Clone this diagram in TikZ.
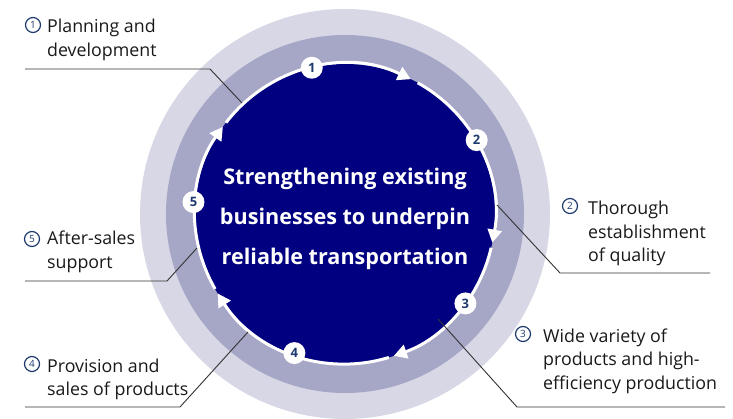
\documentclass[tikz,border=0pt]{standalone}
\usepackage{fontspec}
\setmainfont{Open Sans}
\usetikzlibrary{arrows.meta,calc}
\definecolor{navy}{HTML}{000080}
\definecolor{ringmid}{HTML}{A6A6C6}
\definecolor{ringlight}{HTML}{D7D7E6}
\definecolor{numblue}{HTML}{1E3A6E}
\definecolor{leader}{HTML}{333333}
\begin{document}
\begin{tikzpicture}[x=1pt,y=-1pt,
  badge/.style={circle,fill=white,minimum size=22pt,inner sep=0pt,font=\fontsize{13}{13}\selectfont\bfseries,text=numblue},
  cnum/.style={circle,draw=numblue,line width=1.2pt,minimum size=15pt,inner sep=0pt,font=\fontsize{10}{10}\selectfont,text=numblue},
  lbl/.style={anchor=base west,inner sep=0pt,text=black!90,font=\fontsize{17.8}{23.5}\selectfont},
  leaderline/.style={draw=leader,line width=0.9pt},
  cyclearc/.style={white,line width=3pt},
  cyclearrow/.style={cyclearc,-{Triangle[length=13pt,width=14pt]}}
]
\useasboundingbox (0,0) rectangle (733,419);
\coordinate (C) at (345,214);
\fill[ringlight] (C) circle[radius=205];
\fill[ringmid] (C) circle[radius=179];
\fill[navy] (C) circle[radius=150];
% cycle arcs
\draw[cyclearrow] ($(C)+(-142.5:150)$) arc[start angle=-142.5,end angle=-64,radius=150];
\draw[cyclearrow] ($(C)+(-61:150)$) arc[start angle=-61,end angle=11,radius=150];
\draw[cyclearrow] ($(C)+(13:150)$) arc[start angle=13,end angle=71,radius=150];
\draw[cyclearrow] ($(C)+(73:150)$) arc[start angle=73,end angle=148,radius=150];
\draw[cyclearrow] ($(C)+(150:150)$) arc[start angle=150,end angle=215.5,radius=150];
% badges
\node[badge] (b1) at ($(C)+(-102.8:150)$) {1};
\node[badge] (b2) at ($(C)+(-29.3:151)$) {2};
\node[badge] (b3) at ($(C)+(36.6:150)$) {3};
\node[badge] (b4) at ($(C)+(110:148)$) {4};
\node[badge] (b5) at ($(C)+(-175.5:152)$) {5};
% centre text
\node[text=white,font=\fontsize{21.6}{40}\selectfont\bfseries,align=center] (title) at (345,219)
  {Strengthening existing\\businesses to underpin\\reliable transportation};
% leader lines
\coordinate (l1a) at (25,69); \coordinate (l1b) at (210,69); \coordinate (l1c) at (242,103);
\coordinate (l2a) at (497,205); \coordinate (l2b) at (560,273); \coordinate (l2c) at (710,273);
\coordinate (l3a) at (438,319); \coordinate (l3b) at (517,407); \coordinate (l3c) at (725,407);
\coordinate (l4a) at (25,407); \coordinate (l4b) at (180,407); \coordinate (l4c) at (248,332);
\coordinate (l5a) at (25,281); \coordinate (l5b) at (167,281); \coordinate (l5c) at (197,248);
\draw[leaderline] (l1a) -- (l1b) -- (l1c);
\draw[leaderline] (l2a) -- (l2b) -- (l2c);
\draw[leaderline] (l3a) -- (l3b) -- (l3c);
\draw[leaderline] (l4a) -- (l4b) -- (l4c);
\draw[leaderline] (l5a) -- (l5b) -- (l5c);
% labels
\node[cnum] (c1) at (33,25) {1};
\node[lbl] (t1) at (47,33) {\parbox[t]{200pt}{Planning and\\development}};
\node[cnum] (c2) at (570,206) {2};
\node[lbl] (t2) at (588,215) {\parbox[t]{200pt}{Thorough\\establishment\\of quality}};
\node[cnum] (c3) at (523,334) {3};
\node[lbl] (t3) at (543,342) {\parbox[t]{200pt}{Wide variety of\\products and high-\\efficiency production}};
\node[cnum] (c4) at (32,364) {4};
\node[lbl] (t4) at (47,372) {\parbox[t]{200pt}{Provision and\\sales of products}};
\node[cnum] (c5) at (32,239) {5};
\node[lbl] (t5) at (47,245) {\parbox[t]{200pt}{After-sales\\support}};
\end{tikzpicture}
\end{document}
